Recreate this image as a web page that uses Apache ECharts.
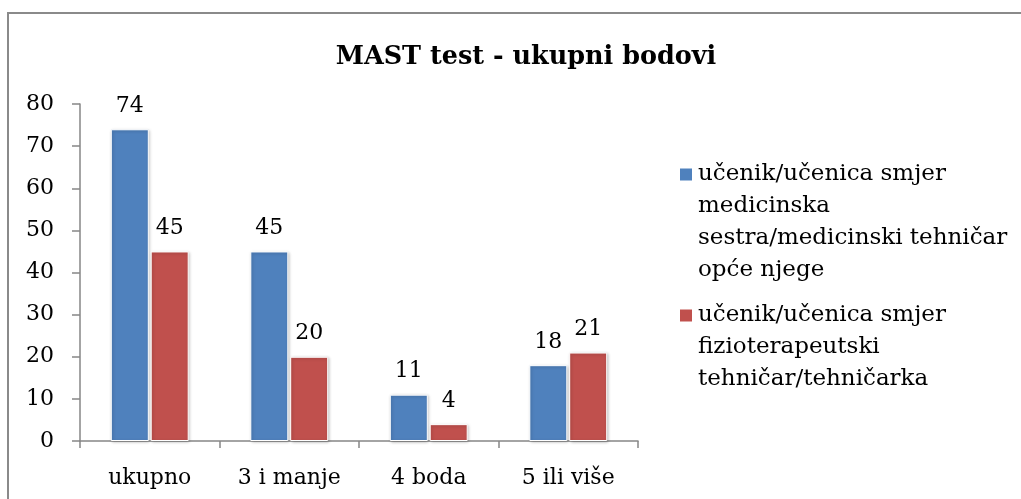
<!DOCTYPE html>
<html>
<head>
<meta charset="utf-8">
<script src="https://cdn.jsdelivr.net/npm/echarts@6/dist/echarts.min.js"></script>
<style>
  html, body { margin: 0; padding: 0; background: #fff; }
  #main { width: 1021px; height: 499px; }
</style>
</head>
<body>
<div id="main"></div>
<script>
var categories = ['ukupno', '3 i manje', '4 boda', '5 ili više'];
var seriesNames = [
    'učenik/učenica smjer\nmedicinska\nsestra/medicinski tehničar\nopće njege',
    'učenik/učenica smjer\nfizioterapeutski\ntehničar/tehničarka'
];
var medicinskaValues = [74, 45, 11, 18];
var fizioValues = [45, 20, 4, 21];
var colors = ['#4F81BD', '#C0504D'];

var font = 'DejaVu Serif';

var myChart = echarts.init(document.getElementById('main'));

// legend text with the colour box on the first line only
function legendText(name) {
    var idx = seriesNames.indexOf(name);
    var lines = name.split('\n');
    return lines.map(function (l, i) {
        return (i === 0 ? '{b' + idx + '|}' : '{sp|}') + '{t|' + l + '}';
    }).join('\n');
}

var barStyle = function (c) {
    return {
        color: c,
        borderColor: '#fff',
        borderWidth: 1,
        shadowColor: 'rgba(0,0,0,0.25)',
        shadowBlur: 3,
        shadowOffsetX: 1,
        shadowOffsetY: 1
    };
};

var labelStyle = {
    show: true,
    position: 'top',
    distance: 12,
    color: '#000',
    fontFamily: font,
    fontSize: 22
};

myChart.setOption({
    backgroundColor: '#ffffff',
    animation: false,
    color: colors,
    title: {
        text: 'MAST test - ukupni bodovi',
        left: 521,
        textAlign: 'center',
        top: 39,
        textStyle: {
            fontFamily: font,
            fontWeight: 'bold',
            fontSize: 25.5,
            color: '#000'
        }
    },
    graphic: [{
        type: 'rect',
        shape: { x: 8, y: 13, width: 1100, height: 600 },
        style: { fill: 'none', stroke: '#8a8a8a', lineWidth: 2 },
        silent: true
    }],
    legend: {
        orient: 'vertical',
        left: 669,
        top: 158,
        itemGap: 22,
        itemWidth: 0,
        itemHeight: 0,
        icon: 'rect',
        data: seriesNames,
        formatter: legendText,
        textStyle: {
            fontFamily: font,
            fontSize: 23,
            color: '#000',
            rich: {
                b0: { width: 12, height: 12, backgroundColor: colors[0], lineHeight: 32 },
                b1: { width: 12, height: 12, backgroundColor: colors[1], lineHeight: 32 },
                sp: { width: 12, lineHeight: 32 },
                t: { fontFamily: font, fontSize: 23, color: '#000', lineHeight: 32, padding: [0, 0, 0, 6] }
            }
        }
    },
    grid: {
        left: 80,
        right: 383,
        top: 104,
        bottom: 58
    },
    xAxis: {
        type: 'category',
        data: categories,
        axisLine: { lineStyle: { color: '#868686', width: 1.5 } },
        axisTick: { show: true, length: 7, lineStyle: { color: '#868686', width: 1.5 } },
        axisLabel: { color: '#000', fontFamily: font, fontSize: 22, margin: 26 }
    },
    yAxis: {
        type: 'value',
        min: 0,
        max: 80,
        interval: 10,
        axisLine: { show: true, lineStyle: { color: '#868686', width: 1.5 } },
        axisTick: { show: true, length: 8, lineStyle: { color: '#868686', width: 1.5 } },
        splitLine: { show: false },
        axisLabel: { color: '#000', fontFamily: font, fontSize: 22, margin: 26 }
    },
    series: [{
        name: seriesNames[0],
        type: 'bar',
        barWidth: 38,
        barGap: '5%',
        data: medicinskaValues,
        itemStyle: barStyle(colors[0]),
        label: labelStyle
    }, {
        name: seriesNames[1],
        type: 'bar',
        barWidth: 38,
        barGap: '5%',
        data: fizioValues,
        itemStyle: barStyle(colors[1]),
        label: labelStyle
    }]
});
</script>
</body>
</html>
